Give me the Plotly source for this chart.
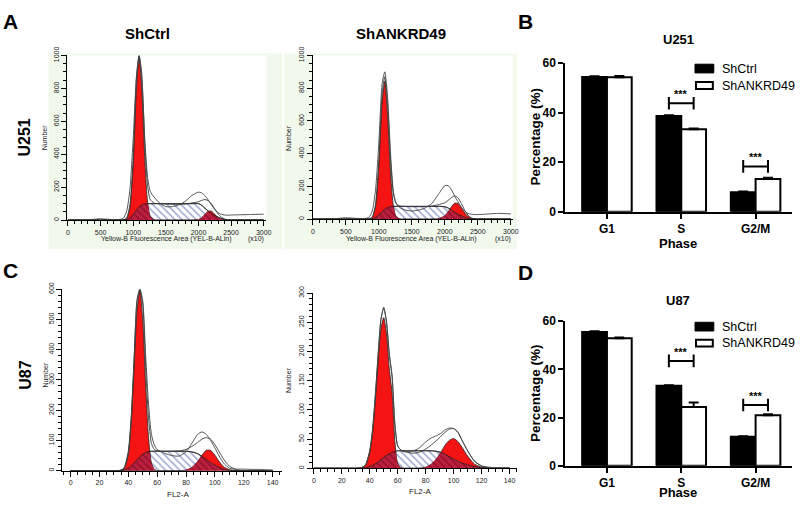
import numpy as np
import plotly.graph_objects as go

# ---------------- DATA ----------------
# Panel A (U251) histogram grid, channel (x10)
a_grid = [0, 300, 500, 700, 800, 850, 900, 950, 1000, 1050, 1090, 1130, 1180, 1220, 1260, 1320,
          1400, 1500, 1600, 1700, 1800, 1900, 2000, 2050, 2100, 2150, 2200, 2250, 2300, 2350,
          2400, 2450, 2500, 2600, 2800, 3000]
# ShCtrl U251
al_g1 = [0, 0, 0, 0, 0, 0, 9, 77, 346, 804, 990, 804, 346, 110, 23, 2,
         0, 0, 0, 0, 0, 0, 0, 0, 0, 0, 0, 0, 0, 0, 0, 0, 0, 0, 0, 0]
al_s = [0, 0, 0, 0, 0, 0, 3, 15, 35, 60, 80, 92, 98, 100, 100, 100,
        100, 100, 100, 100, 100, 100, 100, 90, 72, 55, 40, 28, 18, 10, 4, 0, 0, 0, 0, 0]
al_g2 = [0, 0, 0, 0, 0, 0, 0, 0, 0, 0, 0, 0, 0, 0, 0, 0,
         0, 0, 0, 0, 0, 0, 4, 14, 35, 54, 54, 35, 14, 4, 1, 0, 0, 0, 0, 0]
al_fit = [0, 0, 0, 0, 0, 1, 15, 95, 385, 865, 1000, 890, 440, 210, 125, 103,
          100, 98, 96, 96, 98, 104, 112, 120, 125, 118, 98, 68, 38, 18, 7, 2, 0, 0, 0, 0]
al_raw = [0, 2, 8, 3, 5, 12, 55, 190, 500, 880, 1000, 870, 470, 260, 175, 140,
          105, 82, 82, 92, 115, 150, 170, 165, 148, 122, 92, 65, 45, 35, 31, 30, 31, 32, 34, 36]
al_marks = [1100, 3000]
# ShANKRD49 U251
ar_g1 = [0, 0, 0, 0, 0, 0, 10, 79, 330, 720, 843, 649, 262, 79, 16, 1,
         0, 0, 0, 0, 0, 0, 0, 0, 0, 0, 0, 0, 0, 0, 0, 0, 0, 0, 0, 0]
ar_s = [0, 0, 0, 0, 0, 0, 2, 12, 28, 46, 60, 70, 76, 78, 78, 78,
        78, 78, 78, 78, 78, 78, 76, 68, 55, 42, 30, 20, 12, 5, 1, 0, 0, 0, 0, 0]
ar_g2 = [0, 0, 0, 0, 0, 0, 0, 0, 0, 0, 0, 0, 0, 0, 0, 0,
         0, 0, 0, 0, 0, 2, 20, 45, 76, 98, 95, 70, 39, 17, 5, 1, 0, 0, 0, 0]
ar_fit = [0, 0, 0, 0, 0, 1, 14, 92, 360, 770, 870, 720, 340, 155, 95, 80,
          77, 76, 76, 77, 80, 88, 100, 115, 132, 142, 130, 95, 55, 25, 8, 2, 0, 0, 0, 0]
ar_raw = [0, 2, 8, 4, 5, 12, 50, 180, 470, 830, 900, 760, 380, 170, 100, 70,
          55, 50, 55, 68, 95, 150, 205, 205, 180, 140, 105, 72, 48, 35, 30, 28, 28, 30, 35, 32]
ar_marks = [1095, 2085]

# Panel C (U87) histogram grid, FL2-A
c_grid = [0, 20, 30, 34, 37, 40, 42, 44, 46, 48, 50, 52, 54, 56, 58, 60,
          63, 66, 70, 75, 80, 84, 88, 91, 94, 97, 100, 103, 106, 110, 115, 120, 125, 130, 135, 140]
# ShCtrl U87
cl_g1 = [0, 0, 0, 0, 7, 57, 163, 343, 528, 597, 496, 280, 110, 25, 4, 0,
         0, 0, 0, 0, 0, 0, 0, 0, 0, 0, 0, 0, 0, 0, 0, 0, 0, 0, 0, 0]
cl_s = [0, 0, 0, 0, 2, 8, 15, 25, 36, 46, 54, 60, 63, 64, 64, 64,
        64, 64, 64, 64, 64, 62, 56, 47, 37, 27, 18, 11, 5, 1, 0, 0, 0, 0, 0, 0]
cl_g2 = [0, 0, 0, 0, 0, 0, 0, 0, 0, 0, 0, 0, 0, 0, 0, 0,
         0, 0, 0, 0, 2, 10, 30, 51, 67, 67, 51, 30, 13, 3, 0, 0, 0, 0, 0, 0]
cl_fit = [0, 0, 0, 0, 9, 65, 178, 368, 564, 600, 550, 340, 175, 90, 70, 66,
          64, 64, 64, 65, 70, 80, 93, 104, 109, 104, 86, 62, 38, 15, 3, 0, 0, 0, 0, 0]
cl_raw = [0, 0, 0, 1, 5, 55, 170, 370, 560, 600, 560, 380, 220, 120, 85, 70,
          62, 56, 50, 48, 62, 90, 120, 128, 120, 100, 75, 48, 25, 8, 5, 5, 4, 4, 3, 2]
cl_marks = [46.7, 90.8]
# ShANKRD49 U87
cr_g1 = [0, 0, 0, 1, 5, 27, 61, 117, 184, 239, 258, 230, 170, 128, 45, 8,
         0, 0, 0, 0, 0, 0, 0, 0, 0, 0, 0, 0, 0, 0, 0, 0, 0, 0, 0, 0]
cr_s = [0, 0, 0, 0, 1, 3, 5, 8, 11, 15, 19, 22, 25, 27, 29, 30,
        30, 30, 30, 30, 30, 30, 29, 27, 24, 20, 16, 12, 9, 6, 3, 1, 0, 0, 0, 0]
cr_g2 = [0, 0, 0, 0, 0, 0, 0, 0, 0, 0, 0, 0, 0, 0, 0, 0,
         0, 0, 0, 0, 2, 7, 17, 28, 40, 48, 51, 46, 36, 21, 7, 2, 0, 0, 0, 0]
cr_fit = [0, 0, 0, 1, 6, 30, 66, 125, 195, 255, 275, 250, 195, 157, 75, 38,
          30, 28, 26, 27, 33, 40, 48, 55, 62, 67, 68, 62, 48, 30, 12, 4, 1, 0, 0, 0]
cr_raw = [0, 0, 0, 1, 6, 30, 66, 125, 195, 255, 275, 250, 195, 157, 75, 38,
          30, 28, 29, 34, 45, 52, 56, 60, 66, 69, 68, 62, 48, 30, 12, 4, 2, 1, 1, 1]
cr_marks = []

# Bar charts
phases = ["G1", "S", "G2/M"]
b_ctrl = [54.4, 38.7, 7.9]
b_ctrl_err = [0.3, 0.3, 0.3]
b_kd = [54.3, 33.3, 13.2]
b_kd_err = [0.5, 0.3, 0.5]
b_sig_idx = [1, 2]
b_sig_y = [43.8, 18.3]
d_ctrl = [55.5, 33.2, 12.0]
d_ctrl_err = [0.3, 0.2, 0.2]
d_kd = [52.9, 24.4, 21.0]
d_kd_err = [0.3, 1.8, 0.4]
d_sig_idx = [1, 2]
d_sig_y = [43.5, 25.2]
bar_yticks = [0, 20, 40, 60]

# ---------------- FIGURE ----------------
W, H = 800, 506
FONT = "Arial, Liberation Sans, sans-serif"


def px(x):
    return x / W


def py(y):
    return 1 - y / H


fig = go.Figure()
layout = {}
annotations = []
shapes = []

RED = "#f41414"
HATCH_BLUE = "#3d4fa6"
DARKRED = "#b9203e"


def add_hist(n, grid, g1, s, g2, fit, raw, marks, mark_y):
    xa = "x" if n == 1 else f"x{n}"
    ya = "y" if n == 1 else f"y{n}"
    grid = np.array(grid, float)
    g1 = np.array(g1, float); s = np.array(s, float); g2 = np.array(g2, float)
    common = dict(xaxis=xa, yaxis=ya, showlegend=False, hoverinfo="skip", mode="lines")
    fig.add_trace(go.Scatter(x=grid, y=s, fill="tozeroy", fillcolor="white",
                             fillpattern=dict(shape="\\", fgcolor=HATCH_BLUE, bgcolor="white",
                                              size=5, solidity=0.3),
                             line=dict(color="#222", width=0.8, shape="spline", smoothing=0.6),
                             **common))
    for g in (g1, g2):
        fig.add_trace(go.Scatter(x=grid, y=g, fill="tozeroy", fillcolor=RED,
                                 line=dict(color="#222", width=0.8, shape="spline", smoothing=0.6),
                                 **common))
    ov = np.minimum(s, g1 + g2)
    fig.add_trace(go.Scatter(x=grid, y=ov, fill="tozeroy", fillcolor=DARKRED,
                             fillpattern=dict(shape="\\", fgcolor="#70001c", bgcolor=DARKRED,
                                              size=5, solidity=0.3),
                             line=dict(color="rgba(0,0,0,0)", width=0, shape="spline", smoothing=0.6),
                             **common))
    fig.add_trace(go.Scatter(x=grid, y=s, line=dict(color="#222", width=0.8, shape="spline",
                                                      smoothing=0.6), **common))
    for yy, c in ((fit, "#3a3a3a"), (raw, "#444")):
        fig.add_trace(go.Scatter(x=grid, y=yy, line=dict(color=c, width=0.9, shape="spline",
                                                           smoothing=0.6), **common))
    if marks:
        fig.add_trace(go.Scatter(x=marks, y=[mark_y] * len(marks), mode="markers",
                                 marker=dict(symbol="triangle-up", size=9, color="black"),
                                 cliponaxis=False, xaxis=xa, yaxis=ya, showlegend=False,
                                 hoverinfo="skip"))


def hist_axes(n, x0, x1, ytop, ybot, xr, yr, xd, xminor, yd, yminor):
    xk = "xaxis" if n == 1 else f"xaxis{n}"
    yk = "yaxis" if n == 1 else f"yaxis{n}"
    ya = "y" if n == 1 else f"y{n}"
    xa = "x" if n == 1 else f"x{n}"
    tf = dict(size=7, color="#222", family=FONT)
    layout[xk] = dict(domain=[px(x0), px(x1)], range=xr, anchor=ya, showline=True,
                      linecolor="black", linewidth=1, ticks="outside", ticklen=5,
                      tickcolor="black", tickwidth=1, dtick=xd, tick0=0, tickfont=tf,
                      showgrid=False, zeroline=False,
                      minor=dict(dtick=xminor, tick0=0, ticks="outside", ticklen=3,
                                 tickcolor="black", showgrid=False))
    layout[yk] = dict(domain=[py(ybot), py(ytop)], range=yr, anchor=xa, showline=True,
                      linecolor="black", linewidth=1, ticks="outside", ticklen=5,
                      tickcolor="black", tickwidth=1, dtick=yd, tick0=0, tickfont=tf,
                      tickangle=-90, showgrid=False, zeroline=False,
                      minor=dict(dtick=yminor, tick0=0, ticks="outside", ticklen=3,
                                 tickcolor="black", showgrid=False))


def add_bars(n, ctrl, ctrl_err, kd, kd_err, sig_idx, sig_y):
    xa, ya = f"x{n}", f"y{n}"
    idx = list(range(len(phases)))
    fig.add_trace(go.Bar(x=idx, y=ctrl, name="ShCtrl", marker=dict(color="black",
                         line=dict(color="black", width=2)),
                         error_y=dict(type="data", array=ctrl_err, arrayminus=[0] * 3,
                                      symmetric=False, color="black", thickness=2, width=5),
                         xaxis=xa, yaxis=ya, showlegend=False, hoverinfo="skip"))
    fig.add_trace(go.Bar(x=idx, y=kd, name="ShANKRD49", marker=dict(color="white",
                         line=dict(color="black", width=2)),
                         error_y=dict(type="data", array=kd_err, arrayminus=[0] * 3,
                                      symmetric=False, color="black", thickness=2, width=5),
                         xaxis=xa, yaxis=ya, showlegend=False, hoverinfo="skip"))
    for i, yv in zip(sig_idx, sig_y):
        fig.add_trace(go.Scatter(x=[i - 1 / 6, i + 1 / 6], y=[yv, yv], mode="lines+markers",
                                 line=dict(color="black", width=2),
                                 marker=dict(symbol="line-ns-open", size=9,
                                             line=dict(color="black", width=2)),
                                 xaxis=xa, yaxis=ya, showlegend=False, hoverinfo="skip"))
        annotations.append(dict(x=i, y=yv, xref=xa, yref=ya, text="<b>***</b>",
                                showarrow=False, yanchor="bottom", yshift=1,
                                font=dict(size=11, family=FONT, color="black")))


def bar_axes(n, ytop, ybot):
    xk, yk = f"xaxis{n}", f"yaxis{n}"
    layout[xk] = dict(domain=[px(569), px(798)], range=[-0.56, 2.49], anchor=f"y{n}",
                      showline=True, linecolor="black", linewidth=2, ticks="outside",
                      ticklen=5, tickwidth=2, tickcolor="black",
                      tickvals=list(range(len(phases))),
                      ticktext=[f"<b>{p}</b>" for p in phases],
                      tickfont=dict(size=12, family=FONT, color="black"),
                      showgrid=False, zeroline=False)
    layout[yk] = dict(domain=[py(ybot), py(ytop)], range=[0, 60], anchor=f"x{n}",
                      showline=True, linecolor="black", linewidth=2, ticks="outside",
                      ticklen=5, tickwidth=2, tickcolor="black", tickvals=bar_yticks,
                      ticktext=[f"<b>{t}</b>" for t in bar_yticks],
                      tickfont=dict(size=12, family=FONT, color="black"),
                      showgrid=False, zeroline=False)


GREEN = "#f1f9ed"
for (gx0, gx1, wx0, wx1, wy1) in ((47, 283, 66, 267, 218), (285, 520, 314, 516, 217)):
    shapes.append(dict(type="rect", xref="paper", yref="paper", x0=px(gx0), x1=px(gx1),
                       y0=py(248), y1=py(46), fillcolor=GREEN, line=dict(width=0), layer="below"))
    shapes.append(dict(type="rect", xref="paper", yref="paper", x0=px(wx0), x1=px(wx1),
                       y0=py(wy1), y1=py(48), fillcolor="white", line=dict(width=0), layer="below"))

add_hist(1, a_grid, al_g1, al_s, al_g2, al_fit, al_raw, al_marks, -19)
add_hist(2, a_grid, ar_g1, ar_s, ar_g2, ar_fit, ar_raw, ar_marks, -19)
add_hist(4, c_grid, cl_g1, cl_s, cl_g2, cl_fit, cl_raw, cl_marks, -11)
add_hist(5, c_grid, cr_g1, cr_s, cr_g2, cr_fit, cr_raw, cr_marks, -6)

hist_axes(1, 66, 267, 48, 218, [-10, 3040], [0, 1000], 500, 100, 200, 50)
hist_axes(2, 314, 516, 48, 217, [0, 3030], [0, 1000], 500, 100, 200, 50)
hist_axes(4, 61, 283, 289.3, 476.7, [-5.7, 146.6], [0, 600], 20, 5, 100, 20)
hist_axes(5, 314.3, 520.7, 293.3, 474.3, [-0.5, 145.7], [0, 300], 20, 5, 50, 10)

add_bars(3, b_ctrl, b_ctrl_err, b_kd, b_kd_err, b_sig_idx, b_sig_y)
add_bars(6, d_ctrl, d_ctrl_err, d_kd, d_kd_err, d_sig_idx, d_sig_y)
bar_axes(3, 56, 209.3)
bar_axes(6, 322.3, 471.7)


def txt(x, y, s, size, bold=False, angle=0, color="black", xanchor="center"):
    annotations.append(dict(x=px(x), y=py(y), xref="paper", yref="paper",
                            text=f"<b>{s}</b>" if bold else s, showarrow=False,
                            textangle=angle, xanchor=xanchor, yanchor="middle",
                            borderpad=0,
                            font=dict(size=size, family=FONT, color=color)))


txt(9, 13, "A", 21, True)
txt(529, 13, "B", 21, True)
txt(9, 270, "C", 21, True)
txt(529, 272, "D", 21, True)
txt(147, 25, "ShCtrl", 15, True)
txt(403, 25, "ShANKRD49", 15, True)
txt(23, 133, "U251", 16, True, -90)
txt(23, 378, "U87", 16, True, -90)
for (x, y) in ((43, 133), (290, 133), (43, 378), (290, 383)):
    txt(x, y, "Number", 7, False, -90, "#222")
txt(166, 237, "Yellow-B Fluorescence Area (YEL-B-ALin)", 7, False, 0, "#222")
txt(413, 237, "Yellow-B Fluorescence Area (YEL-B-ALin)", 7, False, 0, "#222")
txt(257, 237, "(x10)", 7, False, 0, "#222")
txt(506, 237, "(x10)", 7, False, 0, "#222")
txt(178, 501, "FL2-A", 8, False, 0, "#222")
txt(422, 498, "FL2-A", 8, False, 0, "#222")
txt(683, 32, "U251", 13, True)
txt(683, 301, "U87", 13, True)
txt(539, 132, "Percentage (%)", 13.5, True, -90)
txt(539, 397, "Percentage (%)", 13.5, True, -90)
txt(683, 242, "Phase", 13, True)
txt(683, 499, "Phase", 13, True)
for (yb, yw) in ((61.5, 79), (328, 345)):
    shapes.append(dict(type="rect", xref="paper", yref="paper", x0=px(700), x1=px(719),
                       y0=py(yb + 4.5), y1=py(yb - 4.5), fillcolor="black",
                       line=dict(color="black", width=1)))
    shapes.append(dict(type="rect", xref="paper", yref="paper", x0=px(701), x1=px(718),
                       y0=py(yw + 3.5), y1=py(yw - 3.5), fillcolor="white",
                       line=dict(color="black", width=2)))
    txt(726, yb, "ShCtrl", 12.5, False, 0, "black", "left")
    txt(726, yw, "ShANKRD49", 12.5, False, 0, "black", "left")

fig.update_layout(width=W, height=H, autosize=False, margin=dict(l=0, r=0, t=0, b=0),
                  paper_bgcolor="white", plot_bgcolor="rgba(0,0,0,0)",
                  barmode="group", bargap=1 / 3, bargroupgap=0,
                  annotations=annotations, shapes=shapes, **layout)
post = ("document.documentElement.style.margin='0';document.documentElement.style.overflow='hidden';"
        "document.body.style.margin='0';document.body.style.padding='0';"
        "document.body.style.overflow='hidden';"
        "var gd=document.getElementById('{plot_id}');"
        "gd.style.width='800px';gd.style.height='506px';"
        "Plotly.relayout(gd,{width:800,height:506,autosize:false});")
fig.write_html("out.html", config={"displayModeBar": False, "responsive": False},
               default_width="800px", default_height="506px", post_script=post)
